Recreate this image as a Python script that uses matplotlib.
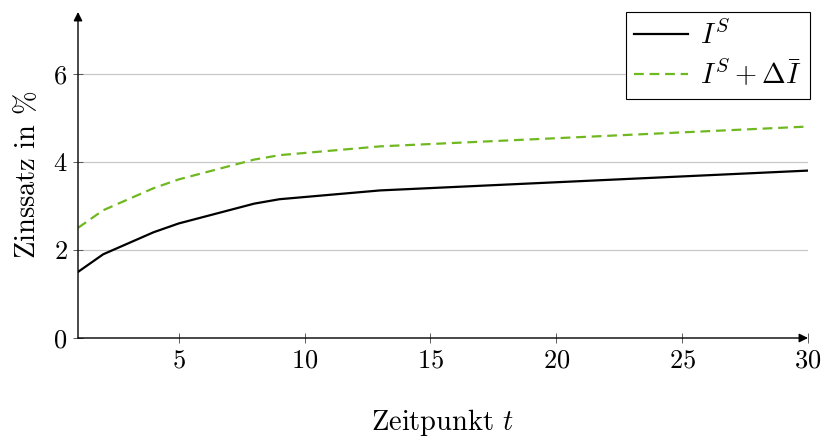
import matplotlib
matplotlib.use("Agg")
import matplotlib.pyplot as plt

# Zinsstrukturkurve und Kurve mit Aufschlag
zeitpunkt = [1, 2, 4, 5, 6, 8, 9, 13, 30]
zins_basis = [1.5, 1.9, 2.4, 2.6, 2.75, 3.05, 3.15, 3.35, 3.8]
zins_aufschlag = [2.5, 2.9, 3.4, 3.6, 3.75, 4.05, 4.15, 4.35, 4.8]

x_ticks = [5, 10, 15, 20, 25, 30]
y_ticks = [0, 2, 4, 6]

plt.rcParams["font.family"] = ["cmr10"]
plt.rcParams["mathtext.fontset"] = "cm"
plt.rcParams["axes.unicode_minus"] = False
plt.rcParams["axes.formatter.use_mathtext"] = True

fig = plt.figure(figsize=(8.24, 4.38), dpi=100)
ax = fig.add_axes([78 / 824, 100 / 438, 730 / 824, 326 / 438])

ax.plot(zeitpunkt, zins_basis, color="black", lw=1.6, label=r"$I^S$", zorder=3)
ax.plot(zeitpunkt, zins_aufschlag, color="#70b81f", lw=1.6, dashes=(4.4, 2.6),
        label=r"$I^S + \Delta\bar{I}$", zorder=3)

ax.set_xlim(1, 30)
ax.set_ylim(0, 7.4)
ax.set_xticks(x_ticks)
ax.set_yticks(y_ticks)
ax.grid(axis="y", color="#c8c8c8", lw=0.9)
ax.set_axisbelow(True)

for side in ("top", "right", "left", "bottom"):
    ax.spines[side].set_visible(False)

# Achsen mit Pfeilspitzen
arrow = dict(arrowstyle="-|>", color="black", lw=1.0, mutation_scale=13, shrinkA=0, shrinkB=0)
ax.annotate("", xy=(1, 0), xytext=(0, 0), xycoords="axes fraction", arrowprops=arrow)
ax.annotate("", xy=(0, 1), xytext=(0, 0), xycoords="axes fraction", arrowprops=arrow)

ax.tick_params(direction="inout", length=7, width=0.6, color="#444444",
               labelsize=19, pad=4)

ax.set_xlabel(r"Zeitpunkt $t$", fontsize=20.5, labelpad=25)
ax.set_ylabel(r"Zinssatz in $\%$", fontsize=20.5, labelpad=9)

leg = ax.legend(loc="upper right", bbox_to_anchor=(1.003, 1.0), borderaxespad=0,
                fontsize=20.5, fancybox=False, framealpha=1, edgecolor="black",
                handlelength=1.9, handletextpad=0.4, borderpad=0.3, labelspacing=0.3)
leg.get_frame().set_linewidth(0.8)

fig.savefig("out.png", dpi=100)
